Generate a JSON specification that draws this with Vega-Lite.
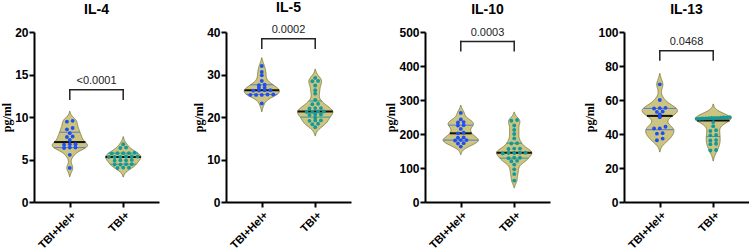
{
  "$schema": "https://vega.github.io/schema/vega-lite/v6.json",
  "padding": {"left": 0, "top": 0, "right": 0, "bottom": 0},
  "datasets": {
    "cyto": [
      {"panel": "IL-4", "group": "TBI+Hel+", "value": 9.55},
      {"panel": "IL-4", "group": "TBI+Hel+", "value": 9.45},
      {"panel": "IL-4", "group": "TBI+Hel+", "value": 8.7},
      {"panel": "IL-4", "group": "TBI+Hel+", "value": 8.55},
      {"panel": "IL-4", "group": "TBI+Hel+", "value": 8.1},
      {"panel": "IL-4", "group": "TBI+Hel+", "value": 7.7},
      {"panel": "IL-4", "group": "TBI+Hel+", "value": 7.65},
      {"panel": "IL-4", "group": "TBI+Hel+", "value": 7.3},
      {"panel": "IL-4", "group": "TBI+Hel+", "value": 6.8},
      {"panel": "IL-4", "group": "TBI+Hel+", "value": 6.75},
      {"panel": "IL-4", "group": "TBI+Hel+", "value": 6.8},
      {"panel": "IL-4", "group": "TBI+Hel+", "value": 6.4},
      {"panel": "IL-4", "group": "TBI+Hel+", "value": 6.35},
      {"panel": "IL-4", "group": "TBI+Hel+", "value": 6.4},
      {"panel": "IL-4", "group": "TBI+Hel+", "value": 5.55},
      {"panel": "IL-4", "group": "TBI+Hel+", "value": 4.0},
      {"panel": "IL-4", "group": "TBI+", "value": 6.8},
      {"panel": "IL-4", "group": "TBI+", "value": 6.4},
      {"panel": "IL-4", "group": "TBI+", "value": 6.35},
      {"panel": "IL-4", "group": "TBI+", "value": 5.8},
      {"panel": "IL-4", "group": "TBI+", "value": 5.75},
      {"panel": "IL-4", "group": "TBI+", "value": 5.75},
      {"panel": "IL-4", "group": "TBI+", "value": 5.75},
      {"panel": "IL-4", "group": "TBI+", "value": 5.7},
      {"panel": "IL-4", "group": "TBI+", "value": 5.35},
      {"panel": "IL-4", "group": "TBI+", "value": 5.35},
      {"panel": "IL-4", "group": "TBI+", "value": 5.35},
      {"panel": "IL-4", "group": "TBI+", "value": 5.3},
      {"panel": "IL-4", "group": "TBI+", "value": 5.3},
      {"panel": "IL-4", "group": "TBI+", "value": 5.3},
      {"panel": "IL-4", "group": "TBI+", "value": 4.95},
      {"panel": "IL-4", "group": "TBI+", "value": 4.9},
      {"panel": "IL-4", "group": "TBI+", "value": 4.9},
      {"panel": "IL-4", "group": "TBI+", "value": 4.85},
      {"panel": "IL-4", "group": "TBI+", "value": 4.45},
      {"panel": "IL-4", "group": "TBI+", "value": 4.45},
      {"panel": "IL-4", "group": "TBI+", "value": 4.4},
      {"panel": "IL-4", "group": "TBI+", "value": 4.4},
      {"panel": "IL-4", "group": "TBI+", "value": 4.05},
      {"panel": "IL-4", "group": "TBI+", "value": 4.05},
      {"panel": "IL-4", "group": "TBI+", "value": 4.0},

      {"panel": "IL-5", "group": "TBI+Hel+", "value": 32.0},
      {"panel": "IL-5", "group": "TBI+Hel+", "value": 30.6},
      {"panel": "IL-5", "group": "TBI+Hel+", "value": 29.8},
      {"panel": "IL-5", "group": "TBI+Hel+", "value": 28.5},
      {"panel": "IL-5", "group": "TBI+Hel+", "value": 27.6},
      {"panel": "IL-5", "group": "TBI+Hel+", "value": 27.5},
      {"panel": "IL-5", "group": "TBI+Hel+", "value": 26.9},
      {"panel": "IL-5", "group": "TBI+Hel+", "value": 26.9},
      {"panel": "IL-5", "group": "TBI+Hel+", "value": 26.3},
      {"panel": "IL-5", "group": "TBI+Hel+", "value": 26.2},
      {"panel": "IL-5", "group": "TBI+Hel+", "value": 26.2},
      {"panel": "IL-5", "group": "TBI+Hel+", "value": 26.3},
      {"panel": "IL-5", "group": "TBI+Hel+", "value": 25.3},
      {"panel": "IL-5", "group": "TBI+Hel+", "value": 25.2},
      {"panel": "IL-5", "group": "TBI+Hel+", "value": 25.2},
      {"panel": "IL-5", "group": "TBI+Hel+", "value": 25.3},
      {"panel": "IL-5", "group": "TBI+Hel+", "value": 25.2},
      {"panel": "IL-5", "group": "TBI+Hel+", "value": 23.2},
      {"panel": "IL-5", "group": "TBI+", "value": 29.2},
      {"panel": "IL-5", "group": "TBI+", "value": 28.5},
      {"panel": "IL-5", "group": "TBI+", "value": 28.4},
      {"panel": "IL-5", "group": "TBI+", "value": 27.4},
      {"panel": "IL-5", "group": "TBI+", "value": 26.3},
      {"panel": "IL-5", "group": "TBI+", "value": 25.5},
      {"panel": "IL-5", "group": "TBI+", "value": 24.0},
      {"panel": "IL-5", "group": "TBI+", "value": 23.1},
      {"panel": "IL-5", "group": "TBI+", "value": 23.0},
      {"panel": "IL-5", "group": "TBI+", "value": 22.1},
      {"panel": "IL-5", "group": "TBI+", "value": 22.0},
      {"panel": "IL-5", "group": "TBI+", "value": 22.1},
      {"panel": "IL-5", "group": "TBI+", "value": 21.3},
      {"panel": "IL-5", "group": "TBI+", "value": 21.2},
      {"panel": "IL-5", "group": "TBI+", "value": 21.2},
      {"panel": "IL-5", "group": "TBI+", "value": 21.3},
      {"panel": "IL-5", "group": "TBI+", "value": 20.6},
      {"panel": "IL-5", "group": "TBI+", "value": 20.5},
      {"panel": "IL-5", "group": "TBI+", "value": 20.6},
      {"panel": "IL-5", "group": "TBI+", "value": 19.8},
      {"panel": "IL-5", "group": "TBI+", "value": 19.2},
      {"panel": "IL-5", "group": "TBI+", "value": 19.1},
      {"panel": "IL-5", "group": "TBI+", "value": 19.2},
      {"panel": "IL-5", "group": "TBI+", "value": 18.4},
      {"panel": "IL-5", "group": "TBI+", "value": 18.3},
      {"panel": "IL-5", "group": "TBI+", "value": 17.6},

      {"panel": "IL-10", "group": "TBI+Hel+", "value": 262},
      {"panel": "IL-10", "group": "TBI+Hel+", "value": 243},
      {"panel": "IL-10", "group": "TBI+Hel+", "value": 235},
      {"panel": "IL-10", "group": "TBI+Hel+", "value": 234},
      {"panel": "IL-10", "group": "TBI+Hel+", "value": 226},
      {"panel": "IL-10", "group": "TBI+Hel+", "value": 225},
      {"panel": "IL-10", "group": "TBI+Hel+", "value": 215},
      {"panel": "IL-10", "group": "TBI+Hel+", "value": 204},
      {"panel": "IL-10", "group": "TBI+Hel+", "value": 202},
      {"panel": "IL-10", "group": "TBI+Hel+", "value": 190},
      {"panel": "IL-10", "group": "TBI+Hel+", "value": 189},
      {"panel": "IL-10", "group": "TBI+Hel+", "value": 182},
      {"panel": "IL-10", "group": "TBI+Hel+", "value": 181},
      {"panel": "IL-10", "group": "TBI+Hel+", "value": 182},
      {"panel": "IL-10", "group": "TBI+Hel+", "value": 173},
      {"panel": "IL-10", "group": "TBI+Hel+", "value": 172},
      {"panel": "IL-10", "group": "TBI+Hel+", "value": 163},
      {"panel": "IL-10", "group": "TBI+", "value": 241},
      {"panel": "IL-10", "group": "TBI+", "value": 239},
      {"panel": "IL-10", "group": "TBI+", "value": 225},
      {"panel": "IL-10", "group": "TBI+", "value": 212},
      {"panel": "IL-10", "group": "TBI+", "value": 200},
      {"panel": "IL-10", "group": "TBI+", "value": 187},
      {"panel": "IL-10", "group": "TBI+", "value": 173},
      {"panel": "IL-10", "group": "TBI+", "value": 172},
      {"panel": "IL-10", "group": "TBI+", "value": 157},
      {"panel": "IL-10", "group": "TBI+", "value": 156},
      {"panel": "IL-10", "group": "TBI+", "value": 157},
      {"panel": "IL-10", "group": "TBI+", "value": 145},
      {"panel": "IL-10", "group": "TBI+", "value": 144},
      {"panel": "IL-10", "group": "TBI+", "value": 143},
      {"panel": "IL-10", "group": "TBI+", "value": 144},
      {"panel": "IL-10", "group": "TBI+", "value": 145},
      {"panel": "IL-10", "group": "TBI+", "value": 130},
      {"panel": "IL-10", "group": "TBI+", "value": 129},
      {"panel": "IL-10", "group": "TBI+", "value": 130},
      {"panel": "IL-10", "group": "TBI+", "value": 121},
      {"panel": "IL-10", "group": "TBI+", "value": 120},
      {"panel": "IL-10", "group": "TBI+", "value": 110},
      {"panel": "IL-10", "group": "TBI+", "value": 96},
      {"panel": "IL-10", "group": "TBI+", "value": 82},
      {"panel": "IL-10", "group": "TBI+", "value": 63},

      {"panel": "IL-13", "group": "TBI+Hel+", "value": 69.2},
      {"panel": "IL-13", "group": "TBI+Hel+", "value": 60.0},
      {"panel": "IL-13", "group": "TBI+Hel+", "value": 55.4},
      {"panel": "IL-13", "group": "TBI+Hel+", "value": 55.2},
      {"panel": "IL-13", "group": "TBI+Hel+", "value": 55.0},
      {"panel": "IL-13", "group": "TBI+Hel+", "value": 53.2},
      {"panel": "IL-13", "group": "TBI+Hel+", "value": 53.0},
      {"panel": "IL-13", "group": "TBI+Hel+", "value": 51.5},
      {"panel": "IL-13", "group": "TBI+Hel+", "value": 49.8},
      {"panel": "IL-13", "group": "TBI+Hel+", "value": 44.3},
      {"panel": "IL-13", "group": "TBI+Hel+", "value": 43.3},
      {"panel": "IL-13", "group": "TBI+Hel+", "value": 43.2},
      {"panel": "IL-13", "group": "TBI+Hel+", "value": 40.5},
      {"panel": "IL-13", "group": "TBI+Hel+", "value": 40.2},
      {"panel": "IL-13", "group": "TBI+Hel+", "value": 37.3},
      {"panel": "IL-13", "group": "TBI+Hel+", "value": 36.3},
      {"panel": "IL-13", "group": "TBI+", "value": 49.9},
      {"panel": "IL-13", "group": "TBI+", "value": 49.8},
      {"panel": "IL-13", "group": "TBI+", "value": 49.7},
      {"panel": "IL-13", "group": "TBI+", "value": 49.6},
      {"panel": "IL-13", "group": "TBI+", "value": 49.5},
      {"panel": "IL-13", "group": "TBI+", "value": 49.5},
      {"panel": "IL-13", "group": "TBI+", "value": 49.4},
      {"panel": "IL-13", "group": "TBI+", "value": 49.3},
      {"panel": "IL-13", "group": "TBI+", "value": 49.2},
      {"panel": "IL-13", "group": "TBI+", "value": 49.1},
      {"panel": "IL-13", "group": "TBI+", "value": 49.0},
      {"panel": "IL-13", "group": "TBI+", "value": 48.9},
      {"panel": "IL-13", "group": "TBI+", "value": 47.0},
      {"panel": "IL-13", "group": "TBI+", "value": 44.6},
      {"panel": "IL-13", "group": "TBI+", "value": 42.2},
      {"panel": "IL-13", "group": "TBI+", "value": 41.8},
      {"panel": "IL-13", "group": "TBI+", "value": 39.4},
      {"panel": "IL-13", "group": "TBI+", "value": 39.2},
      {"panel": "IL-13", "group": "TBI+", "value": 36.4},
      {"panel": "IL-13", "group": "TBI+", "value": 36.2},
      {"panel": "IL-13", "group": "TBI+", "value": 34.3},
      {"panel": "IL-13", "group": "TBI+", "value": 34.0},
      {"panel": "IL-13", "group": "TBI+", "value": 30.6},
      {"panel": "IL-13", "group": "TBI+", "value": 30.3}
    ],
    "tests": [
      {"panel": "IL-4", "p": "<0.0001", "top": 13.2, "foot": 12.1},
      {"panel": "IL-5", "p": "0.0002", "top": 38.4, "foot": 36.2},
      {"panel": "IL-10", "p": "0.0003", "top": 472, "foot": 445},
      {"panel": "IL-13", "p": "0.0468", "top": 89, "foot": 83.5}
    ]
  },
  "hconcat": [
    {
      "title": {"text": "IL-4"},
      "width": 125, "height": 170,
      "layer": [
        {
          "data": {"name": "cyto"},
          "transform": [
            {"filter": "datum.panel === 'IL-4'"},
            {"density": "value", "groupby": ["group"], "bandwidth": 0.45, "extent": [0, 16], "steps": 321},
            {"joinaggregate": [{"op": "max", "field": "density", "as": "peak"}], "groupby": ["group"]},
            {"calculate": "datum.density / datum.peak", "as": "w"},
            {"filter": "datum.w > 0.012"},
            {"calculate": "indexof(['TBI+Hel+', 'TBI+'], datum.group) + 1", "as": "pos"},
            {"calculate": "datum.pos - 0.33 * datum.w", "as": "left"},
            {"calculate": "datum.pos + 0.33 * datum.w", "as": "right"}
          ],
          "mark": {"type": "area", "orient": "horizontal", "fill": "#ccc582", "stroke": "#767236", "strokeWidth": 0.8},
          "encoding": {
            "y": {"field": "value", "type": "quantitative", "scale": {"domain": [0, 20], "nice": false}, "title": "pg/ml"},
            "x": {"field": "left", "type": "quantitative", "scale": {"domain": [0.33, 2.67], "nice": false, "zero": false}, "title": null,
                  "axis": {"values": [1, 2], "labelExpr": "datum.value === 1 ? 'TBI+Hel+' : 'TBI+'"}},
            "x2": {"field": "right"},
            "detail": {"field": "group"}
          }
        },
        {
          "data": {"name": "cyto"},
          "transform": [
            {"filter": "datum.panel === 'IL-4'"},
            {"joinaggregate": [{"op": "median", "field": "value", "as": "median"}, {"op": "q1", "field": "value", "as": "lower"}, {"op": "q3", "field": "value", "as": "upper"}], "groupby": ["group"]},
            {"density": "value", "groupby": ["group", "median", "lower", "upper"], "bandwidth": 0.45, "extent": [0, 16], "steps": 321},
            {"joinaggregate": [{"op": "max", "field": "density", "as": "peak"}], "groupby": ["group"]},
            {"fold": ["median", "lower", "upper"], "as": ["stat", "level"]},
            {"calculate": "abs(datum.value - datum.level)", "as": "gap"},
            {"window": [{"op": "row_number", "as": "rank"}], "groupby": ["group", "stat"], "sort": [{"field": "gap", "order": "ascending"}]},
            {"filter": "datum.rank === 1"},
            {"calculate": "datum.density / datum.peak", "as": "w"},
            {"calculate": "indexof(['TBI+Hel+', 'TBI+'], datum.group) + 1", "as": "pos"},
            {"calculate": "datum.pos - 0.33 * datum.w", "as": "left"},
            {"calculate": "datum.pos + 0.33 * datum.w", "as": "right"},
            {"calculate": "datum.stat === 'median' ? 'median' : datum.group", "as": "tone"}
          ],
          "mark": {"type": "rule"},
          "encoding": {
            "y": {"field": "level", "type": "quantitative", "scale": {"domain": [0, 20], "nice": false}, "title": "pg/ml"},
            "x": {"field": "left", "type": "quantitative", "scale": {"domain": [0.33, 2.67], "nice": false, "zero": false}, "title": null},
            "x2": {"field": "right"},
            "stroke": {"field": "tone", "type": "nominal", "scale": {"domain": ["median", "TBI+Hel+", "TBI+"], "range": ["#111111", "#5a78d0", "#2f9e95"]}, "legend": null},
            "strokeWidth": {"condition": {"test": "datum.stat === 'median'", "value": 2}, "value": 1}
          }
        },
        {
          "data": {"name": "cyto"},
          "transform": [
            {"filter": "datum.panel === 'IL-4'"},
            {"window": [{"op": "lag", "field": "value", "as": "prev"}], "groupby": ["group"], "sort": [{"field": "value", "order": "ascending"}]},
            {"calculate": "datum.prev == null || datum.value - datum.prev > 0.26 ? 1 : 0", "as": "brk"},
            {"window": [{"op": "sum", "field": "brk", "as": "tier"}], "groupby": ["group"], "sort": [{"field": "value", "order": "ascending"}]},
            {"window": [{"op": "row_number", "as": "slot"}], "groupby": ["group", "tier"], "sort": [{"field": "value", "order": "ascending"}]},
            {"joinaggregate": [{"op": "count", "as": "n"}], "groupby": ["group", "tier"]},
            {"calculate": "indexof(['TBI+Hel+', 'TBI+'], datum.group) + 1", "as": "pos"},
            {"calculate": "datum.pos + (datum.slot - (datum.n + 1) / 2) * min(0.107, 0.62 / max(datum.n - 1, 1))", "as": "spot"}
          ],
          "mark": {"type": "circle", "size": 15, "opacity": 1},
          "encoding": {
            "y": {"field": "value", "type": "quantitative", "scale": {"domain": [0, 20], "nice": false}, "title": "pg/ml"},
            "x": {"field": "spot", "type": "quantitative", "scale": {"domain": [0.33, 2.67], "nice": false, "zero": false}, "title": null},
            "fill": {"field": "group", "type": "nominal", "scale": {"domain": ["TBI+Hel+", "TBI+"], "range": ["#1f4ff0", "#14999a"]}, "legend": null}
          }
        },
        {
          "data": {"name": "tests"},
          "transform": [{"filter": "datum.panel === 'IL-4'"}],
          "mark": {"type": "rule", "strokeWidth": 1.5, "color": "#222222", "strokeCap": "square"},
          "encoding": {
            "x": {"datum": 1, "type": "quantitative", "scale": {"domain": [0.33, 2.67], "nice": false, "zero": false}, "title": null},
            "x2": {"datum": 2},
            "y": {"field": "top", "type": "quantitative", "scale": {"domain": [0, 20], "nice": false}, "title": "pg/ml"}
          }
        },
        {
          "data": {"name": "tests"},
          "transform": [{"filter": "datum.panel === 'IL-4'"}],
          "mark": {"type": "rule", "strokeWidth": 1.5, "color": "#222222", "strokeCap": "square"},
          "encoding": {
            "x": {"datum": 1, "type": "quantitative", "scale": {"domain": [0.33, 2.67], "nice": false, "zero": false}, "title": null},
            "y": {"field": "top", "type": "quantitative", "scale": {"domain": [0, 20], "nice": false}, "title": "pg/ml"},
            "y2": {"field": "foot"}
          }
        },
        {
          "data": {"name": "tests"},
          "transform": [{"filter": "datum.panel === 'IL-4'"}],
          "mark": {"type": "rule", "strokeWidth": 1.5, "color": "#222222", "strokeCap": "square"},
          "encoding": {
            "x": {"datum": 2, "type": "quantitative", "scale": {"domain": [0.33, 2.67], "nice": false, "zero": false}, "title": null},
            "y": {"field": "top", "type": "quantitative", "scale": {"domain": [0, 20], "nice": false}, "title": "pg/ml"},
            "y2": {"field": "foot"}
          }
        },
        {
          "data": {"name": "tests"},
          "transform": [{"filter": "datum.panel === 'IL-4'"}],
          "mark": {"type": "text", "baseline": "alphabetic", "dy": -6, "fontSize": 11, "color": "#222222"},
          "encoding": {
            "x": {"datum": 1.5, "type": "quantitative", "scale": {"domain": [0.33, 2.67], "nice": false, "zero": false}, "title": null},
            "y": {"field": "top", "type": "quantitative", "scale": {"domain": [0, 20], "nice": false}, "title": "pg/ml"},
            "text": {"field": "p"}
          }
        }
      ]
    },
    {
      "title": {"text": "IL-5"},
      "width": 125, "height": 170,
      "layer": [
        {
          "data": {"name": "cyto"},
          "transform": [
            {"filter": "datum.panel === 'IL-5'"},
            {"density": "value", "groupby": ["group"], "bandwidth": 0.95, "extent": [5, 40], "steps": 351},
            {"joinaggregate": [{"op": "max", "field": "density", "as": "peak"}], "groupby": ["group"]},
            {"calculate": "datum.density / datum.peak", "as": "w"},
            {"filter": "datum.w > 0.012"},
            {"calculate": "indexof(['TBI+Hel+', 'TBI+'], datum.group) + 1", "as": "pos"},
            {"calculate": "datum.pos - 0.33 * datum.w", "as": "left"},
            {"calculate": "datum.pos + 0.33 * datum.w", "as": "right"}
          ],
          "mark": {"type": "area", "orient": "horizontal", "fill": "#ccc582", "stroke": "#767236", "strokeWidth": 0.8},
          "encoding": {
            "y": {"field": "value", "type": "quantitative", "scale": {"domain": [0, 40], "nice": false}, "title": "pg/ml"},
            "x": {"field": "left", "type": "quantitative", "scale": {"domain": [0.33, 2.67], "nice": false, "zero": false}, "title": null,
                  "axis": {"values": [1, 2], "labelExpr": "datum.value === 1 ? 'TBI+Hel+' : 'TBI+'"}},
            "x2": {"field": "right"},
            "detail": {"field": "group"}
          }
        },
        {
          "data": {"name": "cyto"},
          "transform": [
            {"filter": "datum.panel === 'IL-5'"},
            {"joinaggregate": [{"op": "median", "field": "value", "as": "median"}, {"op": "q1", "field": "value", "as": "lower"}, {"op": "q3", "field": "value", "as": "upper"}], "groupby": ["group"]},
            {"density": "value", "groupby": ["group", "median", "lower", "upper"], "bandwidth": 0.95, "extent": [5, 40], "steps": 351},
            {"joinaggregate": [{"op": "max", "field": "density", "as": "peak"}], "groupby": ["group"]},
            {"fold": ["median", "lower", "upper"], "as": ["stat", "level"]},
            {"calculate": "abs(datum.value - datum.level)", "as": "gap"},
            {"window": [{"op": "row_number", "as": "rank"}], "groupby": ["group", "stat"], "sort": [{"field": "gap", "order": "ascending"}]},
            {"filter": "datum.rank === 1"},
            {"calculate": "datum.density / datum.peak", "as": "w"},
            {"calculate": "indexof(['TBI+Hel+', 'TBI+'], datum.group) + 1", "as": "pos"},
            {"calculate": "datum.pos - 0.33 * datum.w", "as": "left"},
            {"calculate": "datum.pos + 0.33 * datum.w", "as": "right"},
            {"calculate": "datum.stat === 'median' ? 'median' : datum.group", "as": "tone"}
          ],
          "mark": {"type": "rule"},
          "encoding": {
            "y": {"field": "level", "type": "quantitative", "scale": {"domain": [0, 40], "nice": false}, "title": "pg/ml"},
            "x": {"field": "left", "type": "quantitative", "scale": {"domain": [0.33, 2.67], "nice": false, "zero": false}, "title": null},
            "x2": {"field": "right"},
            "stroke": {"field": "tone", "type": "nominal", "scale": {"domain": ["median", "TBI+Hel+", "TBI+"], "range": ["#111111", "#5a78d0", "#2f9e95"]}, "legend": null},
            "strokeWidth": {"condition": {"test": "datum.stat === 'median'", "value": 2}, "value": 1}
          }
        },
        {
          "data": {"name": "cyto"},
          "transform": [
            {"filter": "datum.panel === 'IL-5'"},
            {"window": [{"op": "lag", "field": "value", "as": "prev"}], "groupby": ["group"], "sort": [{"field": "value", "order": "ascending"}]},
            {"calculate": "datum.prev == null || datum.value - datum.prev > 0.52 ? 1 : 0", "as": "brk"},
            {"window": [{"op": "sum", "field": "brk", "as": "tier"}], "groupby": ["group"], "sort": [{"field": "value", "order": "ascending"}]},
            {"window": [{"op": "row_number", "as": "slot"}], "groupby": ["group", "tier"], "sort": [{"field": "value", "order": "ascending"}]},
            {"joinaggregate": [{"op": "count", "as": "n"}], "groupby": ["group", "tier"]},
            {"calculate": "indexof(['TBI+Hel+', 'TBI+'], datum.group) + 1", "as": "pos"},
            {"calculate": "datum.pos + (datum.slot - (datum.n + 1) / 2) * min(0.107, 0.62 / max(datum.n - 1, 1))", "as": "spot"}
          ],
          "mark": {"type": "circle", "size": 15, "opacity": 1},
          "encoding": {
            "y": {"field": "value", "type": "quantitative", "scale": {"domain": [0, 40], "nice": false}, "title": "pg/ml"},
            "x": {"field": "spot", "type": "quantitative", "scale": {"domain": [0.33, 2.67], "nice": false, "zero": false}, "title": null},
            "fill": {"field": "group", "type": "nominal", "scale": {"domain": ["TBI+Hel+", "TBI+"], "range": ["#1f4ff0", "#14999a"]}, "legend": null}
          }
        },
        {
          "data": {"name": "tests"},
          "transform": [{"filter": "datum.panel === 'IL-5'"}],
          "mark": {"type": "rule", "strokeWidth": 1.5, "color": "#222222", "strokeCap": "square"},
          "encoding": {
            "x": {"datum": 1, "type": "quantitative", "scale": {"domain": [0.33, 2.67], "nice": false, "zero": false}, "title": null},
            "x2": {"datum": 2},
            "y": {"field": "top", "type": "quantitative", "scale": {"domain": [0, 40], "nice": false}, "title": "pg/ml"}
          }
        },
        {
          "data": {"name": "tests"},
          "transform": [{"filter": "datum.panel === 'IL-5'"}],
          "mark": {"type": "rule", "strokeWidth": 1.5, "color": "#222222", "strokeCap": "square"},
          "encoding": {
            "x": {"datum": 1, "type": "quantitative", "scale": {"domain": [0.33, 2.67], "nice": false, "zero": false}, "title": null},
            "y": {"field": "top", "type": "quantitative", "scale": {"domain": [0, 40], "nice": false}, "title": "pg/ml"},
            "y2": {"field": "foot"}
          }
        },
        {
          "data": {"name": "tests"},
          "transform": [{"filter": "datum.panel === 'IL-5'"}],
          "mark": {"type": "rule", "strokeWidth": 1.5, "color": "#222222", "strokeCap": "square"},
          "encoding": {
            "x": {"datum": 2, "type": "quantitative", "scale": {"domain": [0.33, 2.67], "nice": false, "zero": false}, "title": null},
            "y": {"field": "top", "type": "quantitative", "scale": {"domain": [0, 40], "nice": false}, "title": "pg/ml"},
            "y2": {"field": "foot"}
          }
        },
        {
          "data": {"name": "tests"},
          "transform": [{"filter": "datum.panel === 'IL-5'"}],
          "mark": {"type": "text", "baseline": "alphabetic", "dy": -6, "fontSize": 11, "color": "#222222"},
          "encoding": {
            "x": {"datum": 1.5, "type": "quantitative", "scale": {"domain": [0.33, 2.67], "nice": false, "zero": false}, "title": null},
            "y": {"field": "top", "type": "quantitative", "scale": {"domain": [0, 40], "nice": false}, "title": "pg/ml"},
            "text": {"field": "p"}
          }
        }
      ]
    },
    {
      "title": {"text": "IL-10"},
      "width": 125, "height": 170,
      "layer": [
        {
          "data": {"name": "cyto"},
          "transform": [
            {"filter": "datum.panel === 'IL-10'"},
            {"density": "value", "groupby": ["group"], "bandwidth": 10, "extent": [0, 400], "steps": 401},
            {"joinaggregate": [{"op": "max", "field": "density", "as": "peak"}], "groupby": ["group"]},
            {"calculate": "datum.density / datum.peak", "as": "w"},
            {"filter": "datum.w > 0.012"},
            {"calculate": "indexof(['TBI+Hel+', 'TBI+'], datum.group) + 1", "as": "pos"},
            {"calculate": "datum.pos - 0.33 * datum.w", "as": "left"},
            {"calculate": "datum.pos + 0.33 * datum.w", "as": "right"}
          ],
          "mark": {"type": "area", "orient": "horizontal", "fill": "#ccc582", "stroke": "#767236", "strokeWidth": 0.8},
          "encoding": {
            "y": {"field": "value", "type": "quantitative", "scale": {"domain": [0, 500], "nice": false}, "title": "pg/ml"},
            "x": {"field": "left", "type": "quantitative", "scale": {"domain": [0.33, 2.67], "nice": false, "zero": false}, "title": null,
                  "axis": {"values": [1, 2], "labelExpr": "datum.value === 1 ? 'TBI+Hel+' : 'TBI+'"}},
            "x2": {"field": "right"},
            "detail": {"field": "group"}
          }
        },
        {
          "data": {"name": "cyto"},
          "transform": [
            {"filter": "datum.panel === 'IL-10'"},
            {"joinaggregate": [{"op": "median", "field": "value", "as": "median"}, {"op": "q1", "field": "value", "as": "lower"}, {"op": "q3", "field": "value", "as": "upper"}], "groupby": ["group"]},
            {"density": "value", "groupby": ["group", "median", "lower", "upper"], "bandwidth": 10, "extent": [0, 400], "steps": 401},
            {"joinaggregate": [{"op": "max", "field": "density", "as": "peak"}], "groupby": ["group"]},
            {"fold": ["median", "lower", "upper"], "as": ["stat", "level"]},
            {"calculate": "abs(datum.value - datum.level)", "as": "gap"},
            {"window": [{"op": "row_number", "as": "rank"}], "groupby": ["group", "stat"], "sort": [{"field": "gap", "order": "ascending"}]},
            {"filter": "datum.rank === 1"},
            {"calculate": "datum.density / datum.peak", "as": "w"},
            {"calculate": "indexof(['TBI+Hel+', 'TBI+'], datum.group) + 1", "as": "pos"},
            {"calculate": "datum.pos - 0.33 * datum.w", "as": "left"},
            {"calculate": "datum.pos + 0.33 * datum.w", "as": "right"},
            {"calculate": "datum.stat === 'median' ? 'median' : datum.group", "as": "tone"}
          ],
          "mark": {"type": "rule"},
          "encoding": {
            "y": {"field": "level", "type": "quantitative", "scale": {"domain": [0, 500], "nice": false}, "title": "pg/ml"},
            "x": {"field": "left", "type": "quantitative", "scale": {"domain": [0.33, 2.67], "nice": false, "zero": false}, "title": null},
            "x2": {"field": "right"},
            "stroke": {"field": "tone", "type": "nominal", "scale": {"domain": ["median", "TBI+Hel+", "TBI+"], "range": ["#111111", "#5a78d0", "#2f9e95"]}, "legend": null},
            "strokeWidth": {"condition": {"test": "datum.stat === 'median'", "value": 2}, "value": 1}
          }
        },
        {
          "data": {"name": "cyto"},
          "transform": [
            {"filter": "datum.panel === 'IL-10'"},
            {"window": [{"op": "lag", "field": "value", "as": "prev"}], "groupby": ["group"], "sort": [{"field": "value", "order": "ascending"}]},
            {"calculate": "datum.prev == null || datum.value - datum.prev > 6.5 ? 1 : 0", "as": "brk"},
            {"window": [{"op": "sum", "field": "brk", "as": "tier"}], "groupby": ["group"], "sort": [{"field": "value", "order": "ascending"}]},
            {"window": [{"op": "row_number", "as": "slot"}], "groupby": ["group", "tier"], "sort": [{"field": "value", "order": "ascending"}]},
            {"joinaggregate": [{"op": "count", "as": "n"}], "groupby": ["group", "tier"]},
            {"calculate": "indexof(['TBI+Hel+', 'TBI+'], datum.group) + 1", "as": "pos"},
            {"calculate": "datum.pos + (datum.slot - (datum.n + 1) / 2) * min(0.107, 0.62 / max(datum.n - 1, 1))", "as": "spot"}
          ],
          "mark": {"type": "circle", "size": 15, "opacity": 1},
          "encoding": {
            "y": {"field": "value", "type": "quantitative", "scale": {"domain": [0, 500], "nice": false}, "title": "pg/ml"},
            "x": {"field": "spot", "type": "quantitative", "scale": {"domain": [0.33, 2.67], "nice": false, "zero": false}, "title": null},
            "fill": {"field": "group", "type": "nominal", "scale": {"domain": ["TBI+Hel+", "TBI+"], "range": ["#1f4ff0", "#14999a"]}, "legend": null}
          }
        },
        {
          "data": {"name": "tests"},
          "transform": [{"filter": "datum.panel === 'IL-10'"}],
          "mark": {"type": "rule", "strokeWidth": 1.5, "color": "#222222", "strokeCap": "square"},
          "encoding": {
            "x": {"datum": 1, "type": "quantitative", "scale": {"domain": [0.33, 2.67], "nice": false, "zero": false}, "title": null},
            "x2": {"datum": 2},
            "y": {"field": "top", "type": "quantitative", "scale": {"domain": [0, 500], "nice": false}, "title": "pg/ml"}
          }
        },
        {
          "data": {"name": "tests"},
          "transform": [{"filter": "datum.panel === 'IL-10'"}],
          "mark": {"type": "rule", "strokeWidth": 1.5, "color": "#222222", "strokeCap": "square"},
          "encoding": {
            "x": {"datum": 1, "type": "quantitative", "scale": {"domain": [0.33, 2.67], "nice": false, "zero": false}, "title": null},
            "y": {"field": "top", "type": "quantitative", "scale": {"domain": [0, 500], "nice": false}, "title": "pg/ml"},
            "y2": {"field": "foot"}
          }
        },
        {
          "data": {"name": "tests"},
          "transform": [{"filter": "datum.panel === 'IL-10'"}],
          "mark": {"type": "rule", "strokeWidth": 1.5, "color": "#222222", "strokeCap": "square"},
          "encoding": {
            "x": {"datum": 2, "type": "quantitative", "scale": {"domain": [0.33, 2.67], "nice": false, "zero": false}, "title": null},
            "y": {"field": "top", "type": "quantitative", "scale": {"domain": [0, 500], "nice": false}, "title": "pg/ml"},
            "y2": {"field": "foot"}
          }
        },
        {
          "data": {"name": "tests"},
          "transform": [{"filter": "datum.panel === 'IL-10'"}],
          "mark": {"type": "text", "baseline": "alphabetic", "dy": -6, "fontSize": 11, "color": "#222222"},
          "encoding": {
            "x": {"datum": 1.5, "type": "quantitative", "scale": {"domain": [0.33, 2.67], "nice": false, "zero": false}, "title": null},
            "y": {"field": "top", "type": "quantitative", "scale": {"domain": [0, 500], "nice": false}, "title": "pg/ml"},
            "text": {"field": "p"}
          }
        }
      ]
    },
    {
      "title": {"text": "IL-13"},
      "width": 125, "height": 170,
      "layer": [
        {
          "data": {"name": "cyto"},
          "transform": [
            {"filter": "datum.panel === 'IL-13'"},
            {"density": "value", "groupby": ["group"], "bandwidth": 2.8, "extent": [0, 100], "steps": 401},
            {"joinaggregate": [{"op": "max", "field": "density", "as": "peak"}], "groupby": ["group"]},
            {"calculate": "datum.density / datum.peak", "as": "w"},
            {"filter": "datum.w > 0.012"},
            {"calculate": "indexof(['TBI+Hel+', 'TBI+'], datum.group) + 1", "as": "pos"},
            {"calculate": "datum.pos - 0.33 * datum.w", "as": "left"},
            {"calculate": "datum.pos + 0.33 * datum.w", "as": "right"}
          ],
          "mark": {"type": "area", "orient": "horizontal", "fill": "#ccc582", "stroke": "#767236", "strokeWidth": 0.8},
          "encoding": {
            "y": {"field": "value", "type": "quantitative", "scale": {"domain": [0, 100], "nice": false}, "title": "pg/ml"},
            "x": {"field": "left", "type": "quantitative", "scale": {"domain": [0.33, 2.67], "nice": false, "zero": false}, "title": null,
                  "axis": {"values": [1, 2], "labelExpr": "datum.value === 1 ? 'TBI+Hel+' : 'TBI+'"}},
            "x2": {"field": "right"},
            "detail": {"field": "group"}
          }
        },
        {
          "data": {"name": "cyto"},
          "transform": [
            {"filter": "datum.panel === 'IL-13'"},
            {"joinaggregate": [{"op": "median", "field": "value", "as": "median"}, {"op": "q1", "field": "value", "as": "lower"}, {"op": "q3", "field": "value", "as": "upper"}], "groupby": ["group"]},
            {"density": "value", "groupby": ["group", "median", "lower", "upper"], "bandwidth": 2.8, "extent": [0, 100], "steps": 401},
            {"joinaggregate": [{"op": "max", "field": "density", "as": "peak"}], "groupby": ["group"]},
            {"fold": ["median", "lower", "upper"], "as": ["stat", "level"]},
            {"calculate": "abs(datum.value - datum.level)", "as": "gap"},
            {"window": [{"op": "row_number", "as": "rank"}], "groupby": ["group", "stat"], "sort": [{"field": "gap", "order": "ascending"}]},
            {"filter": "datum.rank === 1"},
            {"calculate": "datum.density / datum.peak", "as": "w"},
            {"calculate": "indexof(['TBI+Hel+', 'TBI+'], datum.group) + 1", "as": "pos"},
            {"calculate": "datum.pos - 0.33 * datum.w", "as": "left"},
            {"calculate": "datum.pos + 0.33 * datum.w", "as": "right"},
            {"calculate": "datum.stat === 'median' ? 'median' : datum.group", "as": "tone"}
          ],
          "mark": {"type": "rule"},
          "encoding": {
            "y": {"field": "level", "type": "quantitative", "scale": {"domain": [0, 100], "nice": false}, "title": "pg/ml"},
            "x": {"field": "left", "type": "quantitative", "scale": {"domain": [0.33, 2.67], "nice": false, "zero": false}, "title": null},
            "x2": {"field": "right"},
            "stroke": {"field": "tone", "type": "nominal", "scale": {"domain": ["median", "TBI+Hel+", "TBI+"], "range": ["#111111", "#5a78d0", "#2f9e95"]}, "legend": null},
            "strokeWidth": {"condition": {"test": "datum.stat === 'median'", "value": 2}, "value": 1}
          }
        },
        {
          "data": {"name": "cyto"},
          "transform": [
            {"filter": "datum.panel === 'IL-13'"},
            {"window": [{"op": "lag", "field": "value", "as": "prev"}], "groupby": ["group"], "sort": [{"field": "value", "order": "ascending"}]},
            {"calculate": "datum.prev == null || datum.value - datum.prev > 1.3 ? 1 : 0", "as": "brk"},
            {"window": [{"op": "sum", "field": "brk", "as": "tier"}], "groupby": ["group"], "sort": [{"field": "value", "order": "ascending"}]},
            {"window": [{"op": "row_number", "as": "slot"}], "groupby": ["group", "tier"], "sort": [{"field": "value", "order": "ascending"}]},
            {"joinaggregate": [{"op": "count", "as": "n"}], "groupby": ["group", "tier"]},
            {"calculate": "indexof(['TBI+Hel+', 'TBI+'], datum.group) + 1", "as": "pos"},
            {"calculate": "datum.pos + (datum.slot - (datum.n + 1) / 2) * min(0.107, 0.62 / max(datum.n - 1, 1))", "as": "spot"}
          ],
          "mark": {"type": "circle", "size": 15, "opacity": 1},
          "encoding": {
            "y": {"field": "value", "type": "quantitative", "scale": {"domain": [0, 100], "nice": false}, "title": "pg/ml"},
            "x": {"field": "spot", "type": "quantitative", "scale": {"domain": [0.33, 2.67], "nice": false, "zero": false}, "title": null},
            "fill": {"field": "group", "type": "nominal", "scale": {"domain": ["TBI+Hel+", "TBI+"], "range": ["#1f4ff0", "#14999a"]}, "legend": null}
          }
        },
        {
          "data": {"name": "tests"},
          "transform": [{"filter": "datum.panel === 'IL-13'"}],
          "mark": {"type": "rule", "strokeWidth": 1.5, "color": "#222222", "strokeCap": "square"},
          "encoding": {
            "x": {"datum": 1, "type": "quantitative", "scale": {"domain": [0.33, 2.67], "nice": false, "zero": false}, "title": null},
            "x2": {"datum": 2},
            "y": {"field": "top", "type": "quantitative", "scale": {"domain": [0, 100], "nice": false}, "title": "pg/ml"}
          }
        },
        {
          "data": {"name": "tests"},
          "transform": [{"filter": "datum.panel === 'IL-13'"}],
          "mark": {"type": "rule", "strokeWidth": 1.5, "color": "#222222", "strokeCap": "square"},
          "encoding": {
            "x": {"datum": 1, "type": "quantitative", "scale": {"domain": [0.33, 2.67], "nice": false, "zero": false}, "title": null},
            "y": {"field": "top", "type": "quantitative", "scale": {"domain": [0, 100], "nice": false}, "title": "pg/ml"},
            "y2": {"field": "foot"}
          }
        },
        {
          "data": {"name": "tests"},
          "transform": [{"filter": "datum.panel === 'IL-13'"}],
          "mark": {"type": "rule", "strokeWidth": 1.5, "color": "#222222", "strokeCap": "square"},
          "encoding": {
            "x": {"datum": 2, "type": "quantitative", "scale": {"domain": [0.33, 2.67], "nice": false, "zero": false}, "title": null},
            "y": {"field": "top", "type": "quantitative", "scale": {"domain": [0, 100], "nice": false}, "title": "pg/ml"},
            "y2": {"field": "foot"}
          }
        },
        {
          "data": {"name": "tests"},
          "transform": [{"filter": "datum.panel === 'IL-13'"}],
          "mark": {"type": "text", "baseline": "alphabetic", "dy": -6, "fontSize": 11, "color": "#222222"},
          "encoding": {
            "x": {"datum": 1.5, "type": "quantitative", "scale": {"domain": [0.33, 2.67], "nice": false, "zero": false}, "title": null},
            "y": {"field": "top", "type": "quantitative", "scale": {"domain": [0, 100], "nice": false}, "title": "pg/ml"},
            "text": {"field": "p"}
          }
        }
      ]
    }
  ],
  "config": {
    "view": {"stroke": null},
    "font": "Liberation Sans",
    "concat": {"spacing": 33},
    "axis": {
      "grid": false,
      "domainColor": "#000000", "domainWidth": 2,
      "tickColor": "#000000", "tickWidth": 2, "tickSize": 5,
      "labelColor": "#000000", "labelFont": "Liberation Sans", "labelFontWeight": "bold", "labelFontSize": 12,
      "titleColor": "#000000"
    },
    "axisY": {
      "tickCount": 5, "labelPadding": 1,
      "titleFont": "Liberation Serif", "titleFontWeight": "bold", "titleFontSize": 12, "titlePadding": 1
    },
    "axisX": {"labelAngle": -45, "labelPadding": 2, "labelFontSize": 11},
    "title": {"font": "Liberation Sans", "fontSize": 14, "fontWeight": "bold", "color": "#000000", "frame": "group", "anchor": "middle", "baseline": "alphabetic", "offset": 9}
  }
}
